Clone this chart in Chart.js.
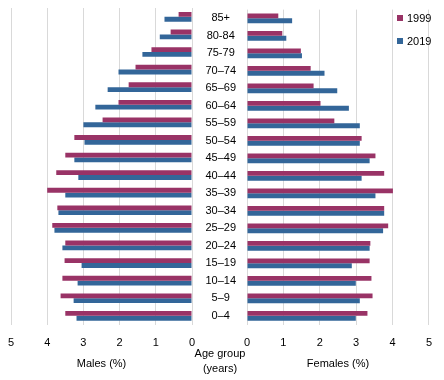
<!DOCTYPE html>
<html>
<head>
<meta charset="utf-8">
<script src="https://cdn.jsdelivr.net/npm/chart.js@4.4.1/dist/chart.umd.min.js"></script>
<style>
  html, body { margin: 0; padding: 0; background: #fff; }
  #wrap { position: relative; width: 444px; height: 380px; font-family: "Liberation Sans", Arial, sans-serif; font-size: 11px; color: #000; }
  #wrap canvas { position: absolute; left: 0; top: 0; }
  .legend { position: absolute; left: 397px; line-height: 13px; white-space: nowrap; }
  .legend span { display: inline-block; width: 6px; height: 6px; margin-right: 4px; vertical-align: 1px; }
  #agetitle { position: absolute; left: 180px; width: 80px; top: 346px; text-align: center; line-height: 15px; }
</style>
</head>
<body>
<div id="wrap">
  <canvas id="males" width="444" height="380"></canvas>
  <canvas id="females" width="444" height="380"></canvas>
  <div class="legend" style="top: 12px;"><span style="background:#993366"></span>1999</div>
  <div class="legend" style="top: 35px;"><span style="background:#336699"></span>2019</div>
  <div id="agetitle">Age group<br>(years)</div>
</div>
<script>
// age groups, top to bottom
const ageGroups = ["85+", "80-84", "75-79", "70–74", "65–69", "60–64", "55–59", "50–54", "45–49",
  "40–44", "35–39", "30–34", "25–29", "20–24", "15–19", "10–14", "5–9", "0–4"];

// percent of total population
const males1999 = [0.37, 0.59, 1.12, 1.56, 1.75, 2.03, 2.47, 3.25, 3.5,
  3.75, 4.0, 3.72, 3.86, 3.5, 3.52, 3.58, 3.63, 3.5];
const males2019 = [0.76, 0.89, 1.37, 2.03, 2.33, 2.67, 3.0, 2.97, 3.25,
  3.14, 3.5, 3.69, 3.8, 3.58, 3.05, 3.16, 3.27, 3.19];
const females1999 = [0.86, 0.97, 1.48, 1.75, 1.83, 2.02, 2.4, 3.15, 3.53,
  3.77, 4.01, 3.77, 3.88, 3.39, 3.37, 3.42, 3.45, 3.31];
const females2019 = [1.24, 1.08, 1.51, 2.13, 2.48, 2.8, 3.1, 3.1, 3.37,
  3.15, 3.53, 3.77, 3.74, 3.37, 2.88, 2.99, 3.1, 2.99];

const xTicks = [0, 1, 2, 3, 4, 5];

const c1999 = "#993366";
const c2019 = "#336699";

Chart.defaults.font.family = "'Liberation Sans', Arial, sans-serif";
Chart.defaults.font.size = 11;
Chart.defaults.color = "#000";

const makeDatasets = (a, b) => [
  { label: "1999", data: a, backgroundColor: c1999, categoryPercentage: 0.55, barPercentage: 1 },
  { label: "2019", data: b, backgroundColor: c2019, categoryPercentage: 0.55, barPercentage: 1 },
];

const xScale = (reverse, title) => ({
  min: 0,
  max: 5,
  reverse,
  afterBuildTicks: (s) => { s.ticks = xTicks.map((v) => ({ value: v })); },
  grid: { color: "#d9d9d9", drawTicks: false },
  border: { display: false },
  ticks: { padding: 12, maxRotation: 0 },
  title: { display: true, text: title, padding: { top: -4, bottom: 2 } },
});

new Chart(document.getElementById("males"), {
  type: "bar",
  data: { labels: ageGroups, datasets: makeDatasets(males1999, males2019) },
  options: {
    indexAxis: "y",
    responsive: false,
    animation: false,
    layout: { padding: { left: 11, right: 252, top: 8, bottom: 7 } },
    plugins: { legend: { display: false }, tooltip: { enabled: false } },
    scales: {
      x: xScale(true, "Males (%)"),
      y: { display: false },
    },
  },
});

new Chart(document.getElementById("females"), {
  type: "bar",
  data: { labels: ageGroups, datasets: makeDatasets(females1999, females2019) },
  options: {
    indexAxis: "y",
    responsive: false,
    animation: false,
    layout: { padding: { left: 192, right: 11, top: 8, bottom: 7 } },
    plugins: { legend: { display: false }, tooltip: { enabled: false } },
    scales: {
      x: xScale(false, "Females (%)"),
      y: {
        grid: { display: false },
        border: { display: false },
        ticks: { crossAlign: "center", padding: 3, autoSkip: false },
        afterFit: (s) => { s.width = 55; },
      },
    },
  },
});
</script>
</body>
</html>
